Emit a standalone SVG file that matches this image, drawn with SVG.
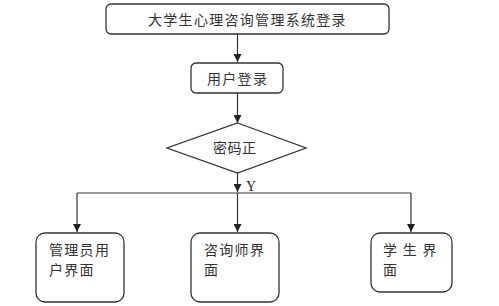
<svg xmlns="http://www.w3.org/2000/svg" width="499" height="306" viewBox="0 0 499 306">
<defs>
<marker id="ah" markerWidth="8" markerHeight="8" viewBox="0 0 8 8" refX="8" refY="4" orient="auto" markerUnits="userSpaceOnUse">
<path d="M0,0 L8,4 L0,8 Z" fill="#222"/>
</marker>
</defs>
<style>
.box{fill:#fff;stroke:#333;stroke-width:1.3}
.t{font-family:"Noto Sans CJK SC","Liberation Sans",sans-serif;font-size:14px;fill:#333}
.c{fill:none;stroke:#333;stroke-width:1.2}
</style>
<rect width="499" height="306" fill="#fff"/>
<g id="connectors">
<line class="c" x1="237.5" y1="34" x2="237.5" y2="62" marker-end="url(#ah)"/>
<line class="c" x1="237.5" y1="93" x2="237.5" y2="123" marker-end="url(#ah)"/>
<line class="c" x1="237.5" y1="173" x2="237.5" y2="192" marker-end="url(#ah)"/>
<line class="c" x1="77" y1="193" x2="411" y2="193"/>
<line class="c" x1="77" y1="193" x2="77" y2="232" marker-end="url(#ah)"/>
<line class="c" x1="237.5" y1="193" x2="237.5" y2="232" marker-end="url(#ah)"/>
<line class="c" x1="411" y1="193" x2="411" y2="232" marker-end="url(#ah)"/>
<text x="246" y="191" font-family="Liberation Serif,serif" font-size="14" fill="#222">Y</text>
</g>
<g id="title">
<rect class="box" x="106" y="4" width="283" height="30" rx="5"/>
<text class="t" x="148" y="25" letter-spacing="1.3">大学生心理咨询管理系统登录</text>
</g>
<g id="login">
<rect class="box" x="191" y="63" width="92" height="30" rx="5"/>
<text class="t" x="207" y="84" letter-spacing="1.3">用户登录</text>
</g>
<g id="check">
<polygon class="box" points="237.5,123 306,148 237.5,173 167,148"/>
<text class="t" x="213" y="153" letter-spacing="0.5">密码正</text>
</g>
<g id="admin">
<rect class="box" x="36" y="233" width="88" height="69" rx="9"/>
<text class="t" x="49" y="255" letter-spacing="1.3">管理员用</text>
<text class="t" x="49" y="275" letter-spacing="1.3">户界面</text>
</g>
<g id="counselor">
<rect class="box" x="191" y="233" width="88" height="69" rx="9"/>
<text class="t" x="204" y="255" letter-spacing="1.3">咨询师界</text>
<text class="t" x="204" y="275" letter-spacing="1.3">面</text>
</g>
<g id="student">
<rect class="box" x="371" y="233" width="81" height="59" rx="9"/>
<text class="t" x="383" y="255" letter-spacing="1.3" xml:space="preserve">学 生 界</text>
<text class="t" x="383" y="275">面</text>
</g>
</svg>
